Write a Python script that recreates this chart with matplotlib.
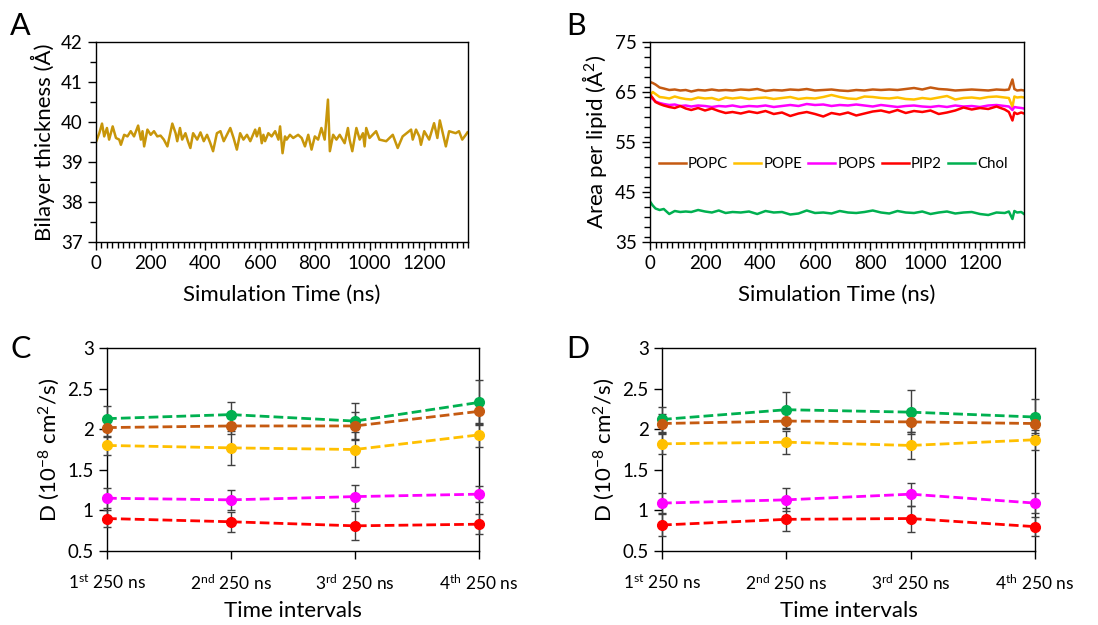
import matplotlib
matplotlib.use("Agg")
import matplotlib.pyplot as plt
from matplotlib.ticker import MultipleLocator

plt.rcParams['font.family'] = ['Lato', 'DejaVu Sans']
plt.rcParams['mathtext.fontset'] = 'custom'
plt.rcParams['mathtext.rm'] = 'Lato'
plt.rcParams['mathtext.it'] = 'Lato:italic'
plt.rcParams['mathtext.bf'] = 'Lato:bold'

# ---------------- Panel A data ----------------
time_A = [0, 12, 22, 30, 40, 48, 61, 73, 85, 91, 103, 115, 127, 139, 154, 164, 170, 176,
          188, 200, 212, 224, 236, 248, 261, 279, 291, 297, 307, 315, 327, 336, 345, 355,
          370, 382, 394, 406, 418, 428, 442, 455, 467, 491, 503, 515, 527, 539, 552, 564,
          582, 588, 598, 606, 612, 618, 630, 642, 655, 667, 673, 682, 691, 697, 709, 721,
          739, 752, 764, 776, 788, 800, 812, 824, 836, 848, 855, 867, 879, 891, 909, 921,
          927, 937, 952, 964, 976, 982, 988, 1000, 1024, 1036, 1061, 1085, 1103, 1121,
          1152, 1158, 1170, 1182, 1188, 1200, 1218, 1236, 1248, 1257, 1279, 1291, 1315,
          1327, 1339, 1352, 1358]
thick_A = [39.50, 39.72, 39.96, 39.64, 39.85, 39.56, 39.89, 39.60, 39.56, 39.43, 39.68,
           39.64, 39.77, 39.64, 39.91, 39.56, 39.77, 39.39, 39.81, 39.68, 39.77, 39.64,
           39.66, 39.56, 39.39, 39.96, 39.72, 39.52, 39.85, 39.56, 39.72, 39.52, 39.35,
           39.72, 39.56, 39.74, 39.52, 39.68, 39.47, 39.27, 39.72, 39.77, 39.52, 39.85,
           39.60, 39.31, 39.72, 39.56, 39.68, 39.52, 39.81, 39.64, 39.85, 39.47, 39.68,
           39.52, 39.72, 39.64, 39.77, 39.56, 39.89, 39.22, 39.64, 39.56, 39.68, 39.60,
           39.68, 39.60, 39.39, 39.68, 39.31, 39.64, 39.56, 39.85, 39.56, 40.56, 39.27,
           39.68, 39.56, 39.68, 39.47, 39.85, 39.56, 39.27, 39.85, 39.56, 39.72, 39.39,
           39.85, 39.60, 39.77, 39.56, 39.52, 39.68, 39.35, 39.64, 39.81, 39.56, 39.81,
           39.64, 39.43, 39.77, 39.56, 39.97, 39.60, 40.04, 39.39, 39.77, 39.72, 39.77,
           39.56, 39.68, 39.74]

# ---------------- Panel B data ----------------
time_B = [0, 10, 20, 35, 50, 70, 90, 110, 130, 150, 175, 200, 225, 250, 275, 300, 330, 360,
          390, 420, 450, 480, 510, 540, 570, 600, 630, 660, 690, 720, 750, 780, 810, 840,
          870, 900, 930, 960, 990, 1020, 1050, 1080, 1110, 1140, 1170, 1200, 1230, 1260,
          1290, 1305, 1318, 1325, 1335, 1350, 1360]
apl_POPC = [67.0, 66.8, 66.5, 65.9, 65.7, 65.4, 65.5, 65.3, 65.4, 65.1, 65.4, 65.3, 65.5,
            65.3, 65.4, 65.3, 65.5, 65.4, 65.6, 65.2, 65.4, 65.3, 65.5, 65.4, 65.6, 65.3,
            65.4, 65.5, 65.3, 65.2, 65.4, 65.3, 65.5, 65.4, 65.5, 65.4, 65.6, 65.8, 65.5,
            65.9, 65.6, 65.5, 65.3, 65.4, 65.5, 65.4, 65.3, 65.5, 65.4, 65.5, 67.5, 65.6,
            65.3, 65.4, 65.3]
apl_POPE = [64.3, 65.0, 64.6, 64.0, 63.9, 63.7, 64.1, 63.8, 63.6, 63.5, 63.9, 63.7, 63.8,
            63.4, 63.9, 63.7, 63.9, 63.6, 63.8, 63.9, 63.6, 63.8, 64.0, 63.6, 63.8, 63.7,
            64.0, 64.4, 64.0, 63.7, 63.6, 64.1, 64.0, 63.8, 63.7, 63.9, 63.6, 63.5, 63.8,
            63.6, 63.9, 64.2, 63.5, 63.8, 63.9, 63.7, 64.0, 64.1, 63.9, 63.8, 62.0, 64.1,
            63.9, 64.0, 63.9]
apl_POPS = [64.0, 63.6, 63.1, 62.8, 62.6, 62.4, 62.5, 62.2, 62.3, 62.1, 62.3, 62.2, 62.0,
            62.2, 62.1, 62.3, 62.0, 62.2, 62.1, 62.3, 62.0, 62.2, 62.4, 62.2, 62.6, 62.4,
            62.5, 62.2, 62.4, 62.3, 62.5, 62.3, 62.1, 62.4, 62.2, 62.0, 62.2, 62.3, 62.1,
            62.0, 62.2, 62.0, 62.3, 62.1, 62.2, 62.0, 62.3, 62.4, 62.2, 62.1, 61.4, 62.0,
            61.9, 61.8, 61.7]
apl_PIP2 = [64.5, 63.8, 63.0, 62.6, 62.3, 62.0, 61.8, 62.2, 61.7, 61.4, 61.8, 61.3, 61.7,
            61.2, 60.8, 61.0, 60.7, 61.1, 60.8, 61.2, 60.6, 60.9, 60.2, 60.7, 61.0, 60.6,
            60.1, 60.8, 60.5, 60.9, 60.3, 60.7, 61.1, 61.3, 60.9, 61.4, 60.8, 61.2, 61.0,
            61.3, 60.6, 60.9, 61.3, 61.9, 61.5, 61.8, 61.6, 62.1, 61.5, 61.0, 59.3, 60.9,
            60.6, 60.9, 60.7]
apl_Chol = [43.1, 42.3, 41.7, 41.4, 41.6, 40.6, 41.2, 41.0, 41.1, 41.0, 41.4, 41.1, 40.9,
            41.3, 40.8, 41.0, 40.9, 41.1, 40.6, 41.2, 40.9, 41.0, 40.5, 40.7, 41.3, 40.8,
            40.9, 40.7, 41.2, 40.9, 40.8, 41.0, 41.3, 40.9, 40.7, 41.2, 40.9, 40.8, 41.1,
            40.6, 40.9, 41.1, 40.7, 40.9, 41.0, 40.6, 40.4, 40.9, 40.8, 41.1, 39.6, 41.2,
            40.9, 41.0, 40.6]

lipids = ['POPC', 'POPE', 'POPS', 'PIP2', 'Chol']
colors = {'POPC': '#C55A11', 'POPE': '#FFC000', 'POPS': '#FF00FF',
          'PIP2': '#FF0000', 'Chol': '#00B050'}

# ---------------- Panels C / D data ----------------
intervals = [r'1$^{\rm st}$ 250 ns', r'2$^{\rm nd}$ 250 ns',
             r'3$^{\rm rd}$ 250 ns', r'4$^{\rm th}$ 250 ns']

D_C = {'Chol': [2.13, 2.18, 2.10, 2.33],
       'POPC': [2.02, 2.04, 2.04, 2.22],
       'POPE': [1.80, 1.77, 1.75, 1.93],
       'POPS': [1.15, 1.13, 1.17, 1.20],
       'PIP2': [0.90, 0.86, 0.81, 0.83]}
err_C = {'Chol': [0.15, 0.16, 0.22, 0.28],
         'POPC': [0.12, 0.10, 0.17, 0.15],
         'POPE': [0.12, 0.21, 0.22, 0.15],
         'POPS': [0.12, 0.12, 0.14, 0.10],
         'PIP2': [0.10, 0.12, 0.18, 0.12]}

D_D = {'Chol': [2.12, 2.24, 2.21, 2.15],
       'POPC': [2.07, 2.10, 2.09, 2.07],
       'POPE': [1.82, 1.84, 1.80, 1.87],
       'POPS': [1.09, 1.13, 1.20, 1.09],
       'PIP2': [0.82, 0.89, 0.90, 0.80]}
err_D = {'Chol': [0.15, 0.22, 0.27, 0.22],
         'POPC': [0.12, 0.10, 0.13, 0.12],
         'POPE': [0.12, 0.14, 0.17, 0.12],
         'POPS': [0.12, 0.14, 0.14, 0.12],
         'PIP2': [0.14, 0.14, 0.16, 0.12]}

TICK_FS = 13.5
CAT_FS = 12.5
LABEL_FS = 16
PANEL_FS = 22

fig = plt.figure(figsize=(10.98, 6.25), dpi=100)

def style_axes(ax):
    for s in ax.spines.values():
        s.set_linewidth(1.0)
        s.set_color('black')
    ax.tick_params(which='both', direction='out', labelsize=TICK_FS, width=1.0)
    ax.tick_params(which='major', length=6)
    ax.tick_params(which='minor', length=4)

def letter(x_px, base_px, txt):
    fig.text(x_px/1098, 1-base_px/625, txt, fontsize=PANEL_FS, va='baseline')

# Panel A
axA = fig.add_axes([96/1098, 1-242/625, 372/1098, 200/625])
axA.plot(time_A, thick_A, color='#C8960A', lw=1.8)
axA.set_xlim(0, 1360)
axA.set_ylim(37, 42)
axA.xaxis.set_major_locator(MultipleLocator(200))
axA.xaxis.set_minor_locator(MultipleLocator(20))
axA.yaxis.set_major_locator(MultipleLocator(1))
axA.yaxis.set_minor_locator(MultipleLocator(0.5))
style_axes(axA)
axA.set_xlabel('Simulation Time (ns)', fontsize=LABEL_FS, labelpad=9)
axA.set_ylabel('Bilayer thickness (Å)', fontsize=LABEL_FS)
letter(10, 35, 'A')

# Panel B
axB = fig.add_axes([650/1098, 1-242/625, 374/1098, 200/625])
series_B = {'POPC': apl_POPC, 'POPE': apl_POPE, 'POPS': apl_POPS,
            'PIP2': apl_PIP2, 'Chol': apl_Chol}
for name in lipids:
    axB.plot(time_B, series_B[name], color=colors[name], lw=1.8, label=name)
axB.set_xlim(0, 1360)
axB.set_ylim(35, 75)
axB.xaxis.set_major_locator(MultipleLocator(200))
axB.xaxis.set_minor_locator(MultipleLocator(20))
axB.set_yticks([35, 45, 55, 65, 75])
axB.yaxis.set_minor_locator(MultipleLocator(2))
style_axes(axB)
axB.set_xlabel('Simulation Time (ns)', fontsize=LABEL_FS, labelpad=9)
axB.set_ylabel('Area per lipid (Å$^2$)', fontsize=LABEL_FS)
axB.legend(loc='center', bbox_to_anchor=(0.49, 0.39), ncol=5, frameon=False,
           fontsize=10.8, handlelength=1.8, columnspacing=0.4, handletextpad=0.15,
           borderaxespad=0, borderpad=0)
letter(566, 35, 'B')

def diffusion_panel(rect, data, errs, txt, letter_x):
    ax = fig.add_axes(rect)
    x = list(range(len(intervals)))
    for name in ['Chol', 'POPC', 'POPE', 'POPS', 'PIP2']:
        ax.errorbar(x, data[name], yerr=errs[name], color=colors[name],
                    ecolor='#404040', elinewidth=1.0, capsize=3, capthick=1.0,
                    ls=(0, (3.5, 1.5)), lw=2.0, marker='o', ms=7, zorder=3,
                    clip_on=False)
    ax.set_xlim(0, 3)
    ax.set_ylim(0.5, 3)
    ax.set_xticks(x)
    ax.set_xticklabels(intervals)
    ax.set_yticks([0.5, 1, 1.5, 2, 2.5, 3])
    ax.set_yticklabels(['0.5', '1', '1.5', '2', '2.5', '3'])
    style_axes(ax)
    ax.tick_params(axis='x', pad=10, labelsize=CAT_FS)
    ax.set_xlabel('Time intervals', fontsize=LABEL_FS, labelpad=6)
    ax.set_ylabel(r'D (10$^{-8}$ cm$^{2}$/s)', fontsize=LABEL_FS)
    letter(letter_x, 358, txt)
    return ax

diffusion_panel([107/1098, 1-551/625, 372/1098, 203/625], D_C, err_C, 'C', 10)
diffusion_panel([662/1098, 1-551/625, 373/1098, 203/625], D_D, err_D, 'D', 566)

fig.savefig('out.png', dpi=100)
